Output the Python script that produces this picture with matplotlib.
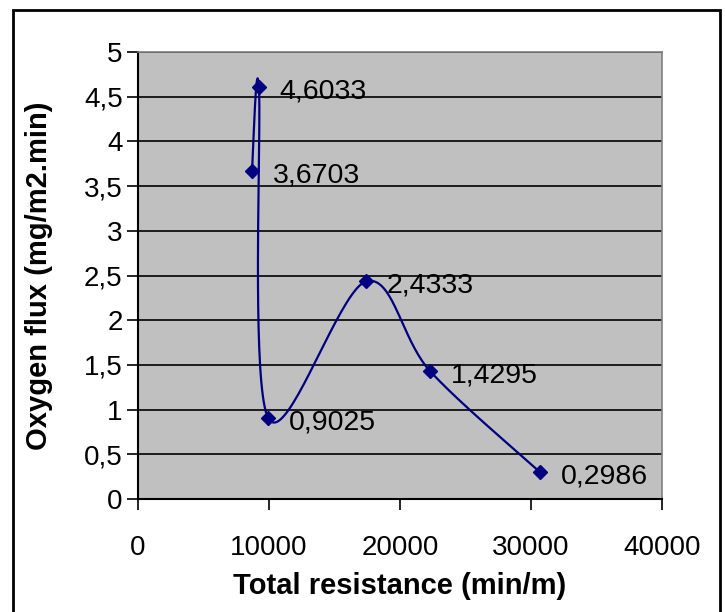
import numpy as np
import matplotlib
matplotlib.use('Agg')
import matplotlib.pyplot as plt
from matplotlib.patches import Rectangle

plt.rcParams['font.family'] = ['Liberation Sans', 'DejaVu Sans']

# Data (series order as plotted)
resistance = [8700, 9230, 9950, 17400, 22300, 30700]
flux = [3.6703, 4.6033, 0.9025, 2.4333, 1.4295, 0.2986]
labels = ['3,6703', '4,6033', '0,9025', '2,4333', '1,4295', '0,2986']
x_ticks = [0, 10000, 20000, 30000, 40000]
y_ticks = [0, 0.5, 1, 1.5, 2, 2.5, 3, 3.5, 4, 4.5, 5]
y_ticklabels = ['0', '0,5', '1', '1,5', '2', '2,5', '3', '3,5', '4', '4,5', '5']

navy = '#000080'

fig = plt.figure(figsize=(7.25, 6.12), dpi=100)
W, H = 725, 612
# plot area in pixels: left 138, right 662, top 52, bottom 499
ax = fig.add_axes([138 / W, (H - 499) / H, 524 / W, 447 / H])
ax.set_facecolor('#C0C0C0')
ax.set_xlim(0, 40000)
ax.set_ylim(0, 5)

# horizontal gridlines
for yv in y_ticks[1:]:
    ax.axhline(yv, color='black', lw=1.2, zorder=1)

# smoothed line like excel (bezier, done in pixel space)
fig.canvas.draw()
pts = ax.transData.transform(np.column_stack([resistance, flux]))
n = len(pts)
curve = []
t = np.linspace(0, 1, 40)
for i in range(n - 1):
    p0 = pts[max(i - 1, 0)]
    p1 = pts[i]
    p2 = pts[i + 1]
    p3 = pts[min(i + 2, n - 1)]
    c1 = p1 + (p2 - p0) / 6
    c2 = p2 - (p3 - p1) / 6
    seg = ((1 - t) ** 3)[:, None] * p1 + (3 * (1 - t) ** 2 * t)[:, None] * c1 \
        + (3 * (1 - t) * t ** 2)[:, None] * c2 + (t ** 3)[:, None] * p2
    curve.append(seg)
curve = np.vstack(curve)
curve_data = ax.transData.inverted().transform(curve)
ax.plot(curve_data[:, 0], curve_data[:, 1], color=navy, lw=1.6, zorder=3, clip_on=False)
ax.plot(resistance, flux, linestyle='none', marker='D', markersize=7.5,
        color=navy, zorder=4, clip_on=False)

# data labels
for xv, yv, lab in zip(resistance, flux, labels):
    ax.annotate(lab, (xv, yv), xytext=(15, -3), textcoords='offset points',
                ha='left', va='center', fontsize=20.5, color='black', zorder=5)

ax.set_xticks(x_ticks)
ax.set_xticklabels([str(v) for v in x_ticks])
ax.set_yticks(y_ticks)
ax.set_yticklabels(y_ticklabels)
ax.tick_params(axis='both', direction='out', length=8, width=1.2, labelsize=20, color='black')
ax.tick_params(axis='x', pad=18)
ax.tick_params(axis='y', pad=3)

for side in ['top', 'right']:
    ax.spines[side].set_color('#808080')
    ax.spines[side].set_linewidth(1.2)
for side in ['left', 'bottom']:
    ax.spines[side].set_color('black')
    ax.spines[side].set_linewidth(1.5)

ax.set_xlabel('Total resistance (min/m)', fontsize=21, fontweight='bold')
ax.set_ylabel('Oxygen flux (mg/m2.min)', fontsize=21, fontweight='bold')
ax.xaxis.set_label_coords(0.5, (499 - 586) / 447)
ax.xaxis.label.set_va('center')
ax.yaxis.set_label_coords((39 - 138) / 524, 0.5)
ax.yaxis.label.set_va('center')

# outer chart border
fig.patches.append(Rectangle((12.5 / W, -0.01), (720 - 12.5) / W, (H - 10) / H + 0.01,
                             transform=fig.transFigure, fill=False,
                             edgecolor='black', lw=2, zorder=0))

fig.savefig('out.png', dpi=100)
